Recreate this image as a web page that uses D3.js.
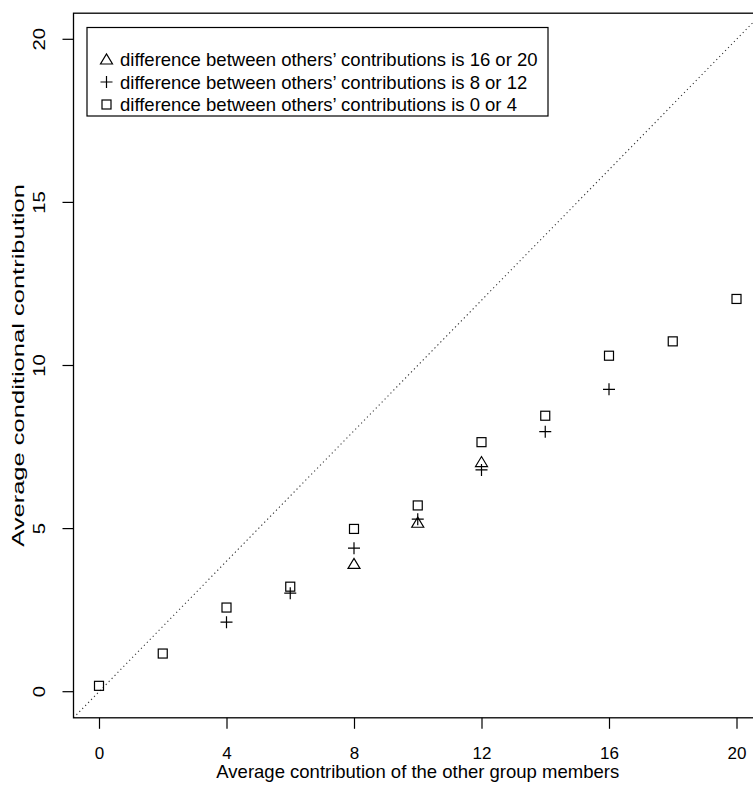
<!DOCTYPE html>
<html>
<head>
<meta charset="utf-8">
<script src="https://cdn.jsdelivr.net/npm/d3@7"></script>
<style>
  body { margin: 0; background: #fff; }
  text { font-family: "Liberation Sans", Arial, sans-serif; font-size: 18.5px; fill: #000; }
  text.tick-lab { font-size: 17px; }
</style>
</head>
<body>
<svg width="753" height="785"></svg>
<script>
// Data
var xTicks = [0, 4, 8, 12, 16, 20];
var yTicks = [0, 5, 10, 15, 20];

// difference between others' contributions is 0 or 4 (squares)
var sqX = [0, 2, 4, 6, 8, 10, 12, 14, 16, 18, 20];
var sqY = [0.18, 1.17, 2.58, 3.22, 4.99, 5.71, 7.65, 8.46, 10.30, 10.74, 12.04];

// difference is 8 or 12 (plus)
var plX = [4, 6, 8, 10, 12, 14, 16];
var plY = [2.13, 3.02, 4.40, 5.29, 6.80, 7.97, 9.27];

// difference is 16 or 20 (triangles)
var trX = [8, 10, 12];
var trY = [3.92, 5.18, 7.04];

var legendLabels = [
  "difference between others\u2019 contributions is 16 or 20",
  "difference between others\u2019 contributions is 8 or 12",
  "difference between others\u2019 contributions is 0 or 4"
];
var legendShapes = ["tri", "plus", "sq"];

// plot region (R style, 4% padding on each side)
var pLeft = 73.5, pRight = 762, pTop = 13.2, pBottom = 717.8;
var x = d3.scaleLinear().domain([-0.8, 20.8]).range([pLeft, pRight]);
var y = d3.scaleLinear().domain([-0.8, 20.8]).range([pBottom, pTop]);

var svg = d3.select('svg');

// dotted y = x line
svg.append('line')
  .attr('x1', x(-0.8)).attr('y1', y(-0.8))
  .attr('x2', x(20.8)).attr('y2', y(20.8))
  .attr('stroke', '#333')
  .attr('stroke-width', 1.1)
  .attr('stroke-dasharray', '1.2,3');

// box
svg.append('rect')
  .attr('x', pLeft).attr('y', pTop)
  .attr('width', pRight - pLeft).attr('height', pBottom - pTop)
  .attr('fill', 'none').attr('stroke', '#000').attr('stroke-width', 1.3);

// x axis
var xAxis = d3.axisBottom(x).tickValues(xTicks).tickSize(11).tickSizeOuter(0).tickPadding(18);
var gx = svg.append('g').attr('transform', 'translate(0,' + pBottom + ')').call(xAxis);
gx.select('.domain').remove();
gx.attr('font-size', null).attr('font-family', null);
gx.selectAll('line').attr('stroke-width', 1.2);
gx.selectAll('text').attr('class', 'tick-lab');

// y axis (rotated labels, drawn from the scale; rotated text in the source is stretched along its length)
var gy = svg.append('g');
gy.selectAll('line').data(yTicks).enter().append('line')
  .attr('x1', pLeft - 11).attr('x2', pLeft)
  .attr('y1', d => y(d)).attr('y2', d => y(d))
  .attr('stroke', '#000').attr('stroke-width', 1.2);
gy.selectAll('text').data(yTicks).enter().append('text')
  .attr('class', 'tick-lab')
  .attr('text-anchor', 'middle')
  .attr('transform', d => 'translate(45,' + y(d) + ') rotate(-90) scale(1.2,0.92)')
  .text(d => d);

// axis titles
svg.append('text')
  .attr('x', (pLeft + pRight) / 2).attr('y', 778)
  .attr('text-anchor', 'middle')
  .text('Average contribution of the other group members');
svg.append('text')
  .attr('transform', 'translate(24,' + (pTop + pBottom) / 2 + ') rotate(-90) scale(1.38,0.92)')
  .attr('text-anchor', 'middle')
  .text('Average conditional contribution');

// symbol drawing helper
function drawShape(g, shape, cx, cy) {
  if (shape === 'sq') {
    g.append('rect').attr('x', cx - 4.5).attr('y', cy - 4.5)
      .attr('width', 9).attr('height', 9)
      .attr('fill', 'none').attr('stroke', '#000').attr('stroke-width', 1.2);
  } else if (shape === 'plus') {
    g.append('path')
      .attr('d', 'M' + (cx - 6) + ',' + cy + 'H' + (cx + 6) + 'M' + cx + ',' + (cy - 6) + 'V' + (cy + 6))
      .attr('fill', 'none').attr('stroke', '#000').attr('stroke-width', 1.2);
  } else {
    g.append('path')
      .attr('d', 'M' + (cx - 6) + ',' + (cy + 4.5) + 'L' + (cx + 6) + ',' + (cy + 4.5) + 'L' + cx + ',' + (cy - 5.5) + 'Z')
      .attr('fill', 'none').attr('stroke', '#000').attr('stroke-width', 1.2);
  }
}

var pts = svg.append('g');
sqX.forEach((v, i) => drawShape(pts, 'sq', x(v), y(sqY[i])));
plX.forEach((v, i) => drawShape(pts, 'plus', x(v), y(plY[i])));
trX.forEach((v, i) => drawShape(pts, 'tri', x(v), y(trY[i])));

// legend
var lg = svg.append('g');
lg.append('rect')
  .attr('x', 87).attr('y', 27.5).attr('width', 461).attr('height', 88.5)
  .attr('fill', '#fff').attr('stroke', '#000').attr('stroke-width', 1.2);
legendLabels.forEach((t, i) => {
  var cy = 59.5 + i * 22.5;
  drawShape(lg, legendShapes[i], 106.5, cy);
  lg.append('text').attr('x', 120).attr('y', cy).attr('dy', '0.36em').text(t);
});
</script>
</body>
</html>
